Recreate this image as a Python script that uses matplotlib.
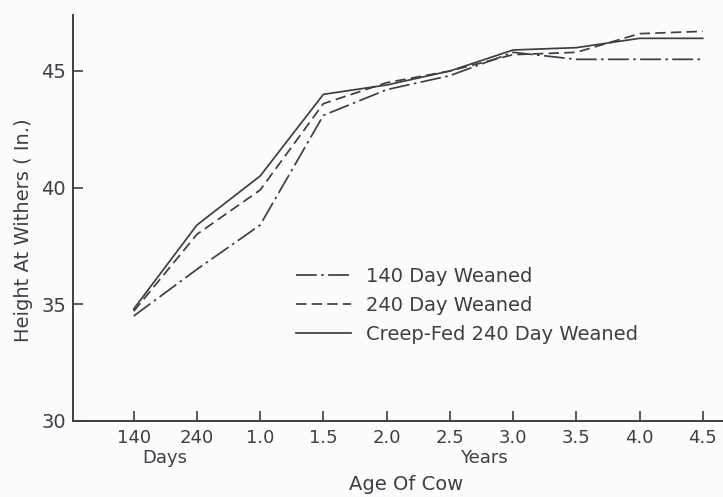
import matplotlib
matplotlib.use("Agg")
import matplotlib.pyplot as plt

# Age classes along the x axis (two calf ages, then cow ages in years)
age_labels = ["140", "240", "1.0", "1.5", "2.0", "2.5", "3.0", "3.5", "4.0", "4.5"]

# Height at withers (in.) for each weaning treatment
weaned_140 = [34.5, 36.5, 38.4, 43.1, 44.2, 44.8, 45.8, 45.5, 45.5, 45.5]
weaned_240 = [34.7, 38.0, 39.9, 43.6, 44.5, 45.0, 45.7, 45.8, 46.6, 46.7]
creep_fed_240 = [34.8, 38.4, 40.5, 44.0, 44.4, 45.0, 45.9, 46.0, 46.4, 46.4]

series_names = ["140 Day Weaned", "240 Day Weaned", "Creep-Fed 240 Day Weaned"]

ink = "#3b4046"
plt.rcParams["font.family"] = ["DejaVu Sans"]

fig = plt.figure(figsize=(7.23, 4.97), dpi=100, facecolor="#fcfcfc")
ax = fig.add_axes([73 / 723, 1 - 421 / 497, 650 / 723, (421 - 15) / 497])
ax.set_facecolor("#fcfcfc")

x = list(range(len(age_labels)))
lw = 1.25
ax.plot(x, weaned_140, color=ink, lw=lw, linestyle=(0, (12, 2.5, 1.5, 2.5)),
        label=series_names[0])
ax.plot(x, weaned_240, color=ink, lw=lw, linestyle=(0, (6, 3)),
        label=series_names[1])
ax.plot(x, creep_fed_240, color=ink, lw=lw, linestyle="-",
        label=series_names[2])

ax.set_xlim(-0.96, 9.32)
ax.set_ylim(30, 47.4)

ax.set_xticks(x)
ax.set_xticklabels(age_labels)
ax.set_yticks([30, 35, 40, 45])

for side in ("top", "right"):
    ax.spines[side].set_visible(False)
for side in ("left", "bottom"):
    ax.spines[side].set_color(ink)
    ax.spines[side].set_linewidth(1.4)

ax.tick_params(axis="both", direction="in", length=7, width=1.2, color=ink,
               labelcolor=ink)
ax.tick_params(axis="x", pad=6, labelsize=13)
ax.tick_params(axis="y", pad=5, labelsize=14)

ax.set_ylabel("Height At Withers ( In.)", color=ink, fontsize=14)
ax.yaxis.set_label_coords(-0.062, 0.47)

fig.text(165 / 723, 1 - 458 / 497, "Days", ha="center", va="center",
         color=ink, fontsize=13)
fig.text(484 / 723, 1 - 458 / 497, "Years", ha="center", va="center",
         color=ink, fontsize=13)
fig.text(406 / 723, 1 - 485 / 497, "Age Of Cow", ha="center", va="center",
         color=ink, fontsize=14)

leg = ax.legend(loc="upper left", bbox_to_anchor=(278 / 723, 1 - 249 / 497),
                bbox_transform=fig.transFigure, frameon=False, fontsize=14,
                handlelength=2.85, handletextpad=0.8, labelspacing=0.52)
for t in leg.get_texts():
    t.set_color(ink)

fig.savefig("out.png", dpi=100, facecolor=fig.get_facecolor())
